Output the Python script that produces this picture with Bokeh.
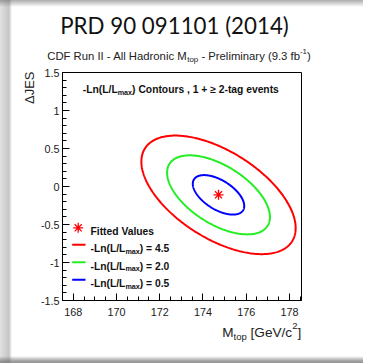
import numpy as np
from bokeh.plotting import figure
from bokeh.models import Label, Range1d, FixedTicker
from bokeh.embed import file_html
from bokeh.resources import INLINE

# ---- fit result: top mass vs jet energy scale shift ----
mtop_fit = [174.72]          # GeV/c^2
djes_fit = [-0.11]
sigma_mtop = 1.19            # GeV/c^2 (stat)
sigma_djes = 0.26
rho = -0.56                  # correlation Mtop / dJES
nll_levels = [4.5, 2.0, 0.5]
level_colors = ["#ff0000", "#22ee22", "#0000ff"]
level_texts = ["4.5", "2.0", "0.5"]

x_ticks = [168, 170, 172, 174, 176, 178]
y_ticks = [-1.5, -1.0, -0.5, 0.0, 0.5, 1.0, 1.5]
y_tick_labels = ["-1.5", "-1", "-0.5", "0", "0.5", "1", "1.5"]

# ---- geometry of the canvas ----
W, H = 369, 363
L, R, T, B = 62, 68, 72, 63
X0, X1 = 167.5, 178.56
Y0, Y1 = -1.5, 1.5

# slide card look: soft shadow at top, grey band at the left and bottom,
# plain white along the right edge
card_layers = [
    "linear-gradient(to left, #ffffff 0px, #ffffff 6px, rgba(255,255,255,0) 6px)",
    "linear-gradient(to bottom, rgba(90,90,90,0.50) 0px, rgba(90,90,90,0.0) 7px)",
    "linear-gradient(to right, rgba(120,120,120,0.22) 0px, rgba(110,110,110,0.40) 9px, "
    "rgba(110,110,110,0.0) 12px)",
    "linear-gradient(to bottom, rgba(80,80,80,0.0) 356px, rgba(80,80,80,0.55) 361px, "
    "rgba(80,80,80,0.6) 363px)",
]
card_styles = {
    "background-color": "#ffffff",
    "background-image": ", ".join(card_layers),
    "background-repeat": "no-repeat",
    "background-size": f"{W}px {H}px",
    "background-position": "0px 0px",
    "overflow": "hidden",
}

p = figure(width=W, height=H, title=None,
           x_range=Range1d(X0, X1), y_range=Range1d(Y0, Y1),
           output_backend="svg", toolbar_location=None,
           min_border_left=L, min_border_right=R,
           min_border_top=T, min_border_bottom=B,
           styles=card_styles)
p.grid.visible = False
p.background_fill_color = "white"
p.border_fill_color = None
p.outline_line_color = "black"
p.outline_line_width = 1

p.xaxis.ticker = FixedTicker(ticks=x_ticks,
                             minor_ticks=list(np.arange(167.5, 178.51, 0.5)))
p.yaxis.ticker = FixedTicker(ticks=y_ticks,
                             minor_ticks=list(np.round(np.arange(-1.5, 1.51, 0.1), 2)))
p.yaxis.major_label_overrides = {v: s for v, s in zip(y_ticks, y_tick_labels)}
for ax in (p.xaxis[0], p.yaxis[0]):
    ax.major_tick_in = 7
    ax.major_tick_out = 0
    ax.minor_tick_in = 4
    ax.minor_tick_out = 0
    ax.major_tick_line_color = "black"
    ax.minor_tick_line_color = "black"
    ax.axis_line_color = "black"
    ax.major_label_text_font = "Liberation Sans"
    ax.major_label_text_font_size = "10.8px"
    ax.major_label_text_color = "#1a1a1a"
p.xaxis.major_label_standoff = 7
p.yaxis.major_label_standoff = 3

# ---- text helpers (Arial / Liberation Sans advance widths, 1/1000 em) ----
ARIAL = {' ': 278, '\u00a0': 278, '-': 333, '(': 333, ')': 333, '.': 278,
         '/': 278, '[': 278, ']': 278, 'A': 667, 'C': 722, 'D': 722, 'F': 611,
         'G': 778, 'H': 722, 'I': 278, 'M': 833, 'P': 667, 'R': 722, 'V': 667,
         'a': 556, 'b': 556, 'c': 500, 'd': 556, 'e': 556, 'f': 278, 'i': 222,
         'l': 222, 'm': 833, 'n': 556, 'o': 556, 'p': 556, 'r': 333, 't': 278,
         'u': 556, 'y': 500}
ARIAL_BOLD = {' ': 278, '\u00a0': 278, '-': 333, '(': 333, ')': 333, '.': 278,
              ',': 278, '/': 278, '+': 584, '=': 584, '≥': 549, 'C': 722,
              'F': 611, 'L': 611, 'V': 667, 'a': 556, 'd': 611, 'e': 556,
              'g': 611, 'i': 278, 'l': 278, 'm': 889, 'n': 611, 'o': 611,
              'r': 389, 's': 556, 't': 333, 'u': 611, 'v': 556, 'x': 556}


def text_width(s, size, bold=False):
    table = ARIAL_BOLD if bold else ARIAL
    return sum(table.get(ch, 556) for ch in s) * size / 1000.0


def keep_edges(s):
    # svg collapses leading / trailing blanks; keep their width
    n0 = len(s) - len(s.lstrip(" "))
    n1 = len(s) - len(s.rstrip(" "))
    core = s.strip(" ")
    return "\u00a0" * n0 + core + "\u00a0" * n1


def rich_text(parts, x, y, size, bold=False, align="left", color="#111111"):
    """Place a run of normal / subscript / superscript pieces.

    parts: (text, kind, side) with kind in n/sub/sup; side is the panel the
    label lives in ("center" = inside the frame).
    """
    pieces = []
    for txt, kind, side in parts:
        s = size if kind == "n" else size * 0.7
        dy = 0 if kind == "n" else (0.28 * size if kind == "sub" else -0.42 * size)
        pieces.append((keep_edges(txt), s, dy, text_width(txt, s, bold), side))
    total = sum(pc[3] for pc in pieces)
    cx = x - total / 2 if align == "center" else (x - total if align == "right" else x)
    for txt, s, dy, w, side in pieces:
        lab = Label(x=cx, y=y + dy, x_units="canvas", y_units="canvas",
                    text=txt, text_font="Liberation Sans",
                    text_font_size=f"{s:.2f}px",
                    text_font_style="bold" if bold else "normal",
                    text_color=color, text_align="left",
                    text_baseline="alphabetic")
        if side == "center":
            p.add_layout(lab)
        else:
            p.add_layout(lab, side)
        cx += w


def to_x(px):
    return X0 + (px - L) / (W - L - R) * (X1 - X0)


def to_y(py):
    return Y1 - (py - T) / (H - T - B) * (Y1 - Y0)


# ---- contours of -ln(L/Lmax), Gaussian approximation around the fit ----
t = np.linspace(0, 2 * np.pi, 361)
for lev, col in zip(nll_levels, level_colors):
    n = np.sqrt(2 * lev)
    xs = mtop_fit[0] + n * sigma_mtop * np.cos(t)
    ys = djes_fit[0] + n * sigma_djes * (rho * np.cos(t) + np.sqrt(1 - rho ** 2) * np.sin(t))
    p.line(xs, ys, line_color=col, line_width=2)

p.scatter(mtop_fit, djes_fit, marker="asterisk", size=10,
          line_color="#ff0000", line_width=1.3)

# ---- legend ----
LS = 10.3
rich_text([("-Ln(L/L", "n", "center"), ("max", "sub", "center"),
           (") Contours , 1 + ≥ 2-tag events", "n", "center")],
          82.3, 89, LS, bold=True)

p.scatter([to_x(77.7)], [to_y(227.3)], marker="asterisk", size=10,
          line_color="#ff0000", line_width=1.3)
rich_text([("Fitted Values", "n", "center")], 90, 231, LS, bold=True)
for k, (txt, col) in enumerate(zip(level_texts, level_colors)):
    yc = 244.3 + k * 17.5
    p.line([to_x(71.7), to_x(85.0)], [to_y(yc), to_y(yc)], line_color=col, line_width=2)
    rich_text([("-Ln(L/L", "n", "center"), ("max", "sub", "center"),
               (f") = {txt}", "n", "center")], 90, yc + 3.7, LS, bold=True)

# ---- titles and axis labels (outside the frame, in the side panels) ----
p.add_layout(Label(x=174, y=25, x_units="canvas", y_units="canvas",
                   text="PRD 90 091101 (2014)", text_font="Lato",
                   text_font_size="22.3px", text_color="#111111",
                   text_align="center", text_baseline="alphabetic"), "above")
rich_text([("CDF Run II - All Hadronic M", "n", "above"), ("top", "sub", "right"),
           (" - Preliminary (9.3 fb", "n", "above"), ("-1", "sup", "right"),
           (")", "n", "right")],
          178.5, 55.5, 11.3, align="center", color="#222222")
rich_text([("M", "n", "below"), ("top", "sub", "right"), (" [GeV/c", "n", "below"),
           ("2", "sup", "right"), ("]", "n", "right")],
          300.7, 331.7, 13.6, align="right", color="#222222")
p.add_layout(Label(x=29, y=71, x_units="canvas", y_units="canvas",
                   text="ΔJES", text_font="Liberation Sans",
                   text_font_size="13px", text_color="#222222", angle=np.pi / 2,
                   text_align="right", text_baseline="middle"), "left")

open("out.html", "w").write(file_html(p, INLINE))
